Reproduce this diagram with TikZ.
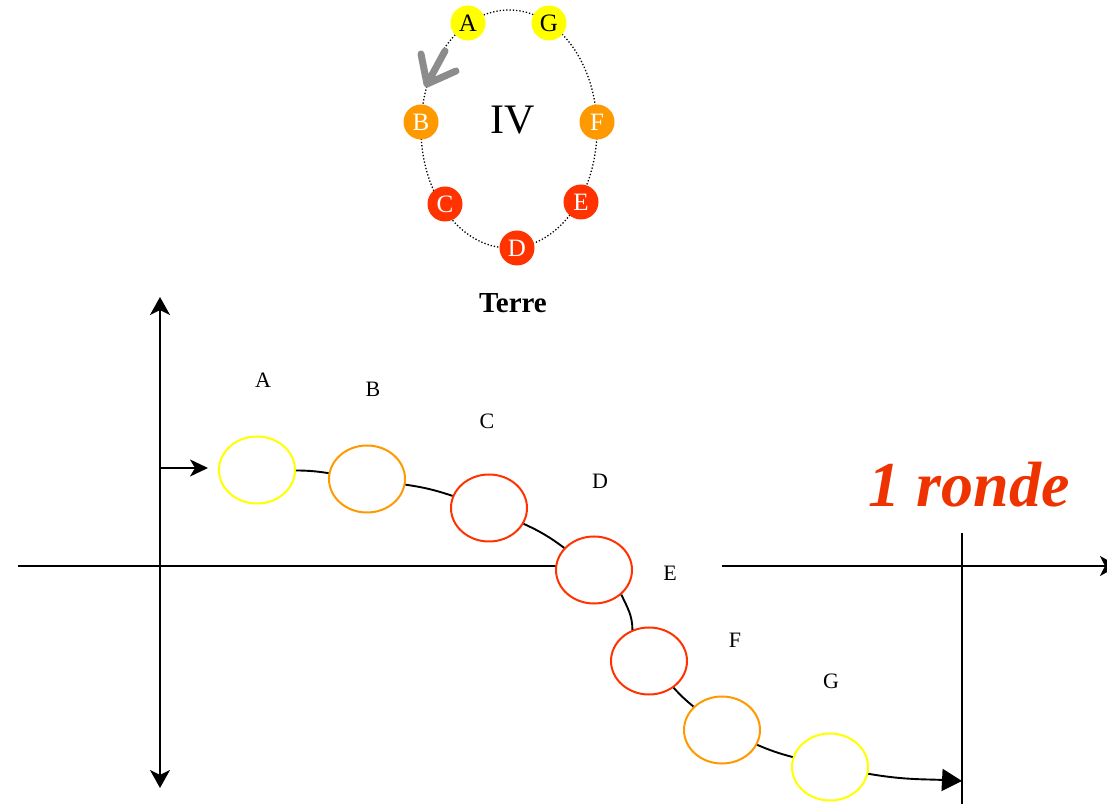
\documentclass[tikz,border=0pt]{standalone}
\usepackage{fontspec}
\setmainfont{Liberation Serif}
\usetikzlibrary{arrows.meta,positioning,shapes.geometric}
\definecolor{posyellow}{HTML}{FFFF00}
\definecolor{posorange}{HTML}{FF9900}
\definecolor{posred}{HTML}{FF3300}
\definecolor{rondered}{HTML}{EE3300}
\definecolor{turngray}{HTML}{8C8C8C}

\begin{document}
\begin{tikzpicture}[x=1pt, y=1pt,
  posbox/.style={ellipse, draw, line width=2pt, fill=white, minimum width=76pt, minimum height=67pt, inner sep=0pt},
  earthpos/.style={circle, inner sep=0pt, minimum size=35pt, font=\fontsize{25}{25}\selectfont},
  lbl/.style={font=\fontsize{22}{22}\selectfont},
  axisline/.style={line width=1.9pt},
  axistip/.tip={Stealth[length=18pt, width=20pt, inset=5pt]},
  curvepath/.style={line width=1.9pt}]
  \useasboundingbox (0,0) rectangle (1107,803);

  % Terre
  \node[ellipse, draw, dotted, line width=1.3pt, minimum width=176pt, minimum height=238pt, inner sep=0pt] (orbit) at (509,674) {};
  \draw[turngray, line width=7pt, line cap=round, line join=round]
    (421,749) -- (427,719) -- (456,732) (427,719) -- (445,752);
  \node[earthpos, fill=posyellow] (tA) at (468,780) {A};
  \node[earthpos, fill=posyellow] (tG) at (549,780) {G};
  \node[earthpos, fill=posorange, text=white] (tB) at (421,681) {B};
  \node[earthpos, fill=posorange, text=white] (tF) at (597,681) {F};
  \node[earthpos, fill=posred, text=white] (tC) at (445,599) {C};
  \node[earthpos, fill=posred, text=white] (tE) at (581,601) {E};
  \node[earthpos, fill=posred, text=white] (tD) at (517,555) {D};
  \node[font=\fontsize{42}{42}\selectfont] (iv) at (513,683) {IV};
  \node[font=\fontsize{29}{29}\selectfont\bfseries] (terre) at (513,500) {Terre};

  % axes
  \coordinate (yBot) at (160,15);
  \coordinate (yTop) at (160,506);
  \coordinate (xLeft) at (18,237);
  \coordinate (xMid) at (594,237);
  \coordinate (xGap) at (722,237);
  \coordinate (xRight) at (1118,237);
  \coordinate (rBot) at (962,-5);
  \coordinate (rTop) at (962,270);
  \coordinate (inStart) at (160,335);
  \coordinate (inEnd) at (208,335);
  \coordinate (endTip) at (962,22);
  \draw[axisline, axistip-axistip] (yBot) -- (yTop);
  \draw[axisline] (xLeft) -- (xMid);
  \draw[axisline, -axistip] (xGap) -- (xRight);
  \draw[axisline] (rBot) -- (rTop);
  \draw[axisline, -{Stealth[length=18pt, width=17pt, inset=5pt]}] (inStart) -- (inEnd);

  % positions
  \node[posbox, draw=posyellow] (eA) at (257,333) {};
  \node[posbox, draw=posorange] (eB) at (367,324) {};
  \node[posbox, draw=posred] (eC) at (489,295) {};
  \node[posbox, draw=posred] (eD) at (594,233) {};
  \node[posbox, draw=posred] (eE) at (649,142) {};
  \node[posbox, draw=posorange] (eF) at (722,73) {};
  \node[posbox, draw=posyellow] (eG) at (830,36) {};

  \draw[curvepath] (eA) to[bend left=4] (eB);
  \draw[curvepath] (eB) to[bend left=5] (eC);
  \draw[curvepath] (eC) to[bend left=6] (eD);
  \draw[curvepath] (eD.-42) to[out=-65, in=90] (eE.118);
  \draw[curvepath] (eE) to[bend right=4] (eF);
  \draw[curvepath] (eF) to[bend right=4] (eG);
  \draw[curvepath, -{Triangle[length=20pt, width=22pt]}] (eG) to[out=-10, in=177] (endTip);

  \node[lbl] (lA) at (263,423) {A};
  \node[lbl] (lB) at (373,414) {B};
  \node[lbl] (lC) at (487,382) {C};
  \node[lbl] (lD) at (600,322) {D};
  \node[lbl] (lE) at (670,230) {E};
  \node[lbl] (lF) at (735,163) {F};
  \node[lbl] (lG) at (831,122) {G};

  \node[font=\fontsize{64}{64}\selectfont\bfseries\itshape, text=rondered] (ronde) at (969,318) {1 ronde};
\end{tikzpicture}
\end{document}
